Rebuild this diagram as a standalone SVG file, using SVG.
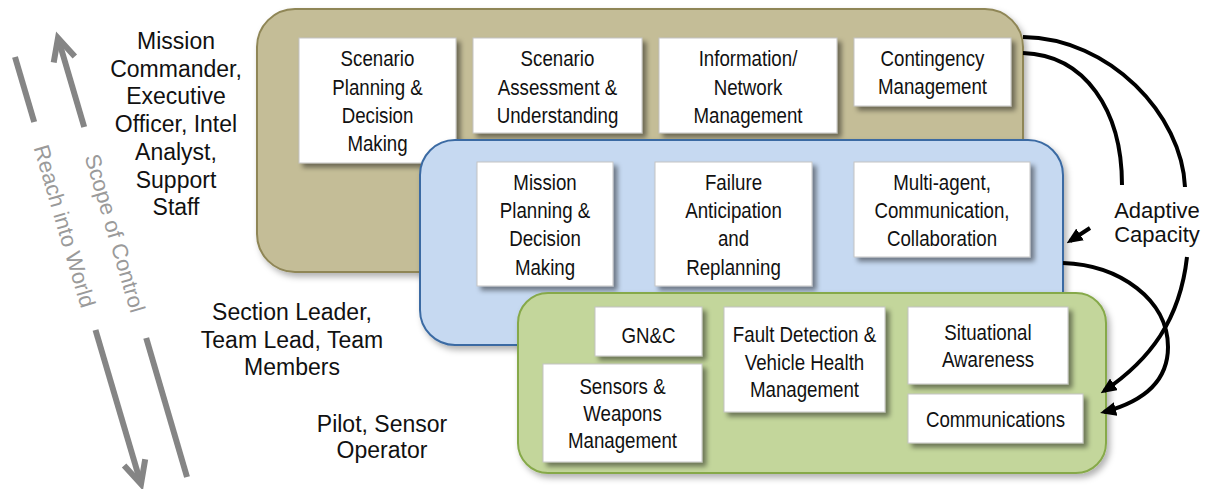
<svg xmlns="http://www.w3.org/2000/svg" width="1205" height="489" viewBox="0 0 1205 489">
<style>
.lbl{font-family:"Liberation Sans",Arial,sans-serif;font-size:23px;fill:#111;text-anchor:middle}
.adp{font-family:"Liberation Sans",Arial,sans-serif;font-size:22px;fill:#111;text-anchor:middle}
.bt{font-family:"Liberation Sans",Arial,sans-serif;font-size:22px;fill:#111;text-anchor:middle}
.gray{font-family:"Liberation Sans",Arial,sans-serif;font-size:22px;fill:#9a9a9a;text-anchor:middle}
.box{fill:#fff;stroke:#c4c4c4;stroke-width:1;filter:url(#bsh)}
.tan{fill:#c4bd97;stroke:#8f8656;stroke-width:2;filter:url(#csh)}
.blue{fill:#c6d9f1;stroke:#3b6ba3;stroke-width:2;filter:url(#csh)}
.green{fill:#c3d69b;stroke:#86a94a;stroke-width:2;filter:url(#csh)}
.conn{fill:none;stroke:#000;stroke-width:4}
.garr{fill:none;stroke:#858585;stroke-width:6;stroke-linecap:butt;stroke-linejoin:miter}
</style>
<defs>
<filter id="bsh" x="-10%" y="-10%" width="130%" height="135%">
<feDropShadow dx="4" dy="4" stdDeviation="2.5" flood-color="#000" flood-opacity="0.45"/>
</filter>
<filter id="csh" x="-5%" y="-5%" width="115%" height="120%">
<feDropShadow dx="3" dy="4" stdDeviation="3" flood-color="#000" flood-opacity="0.3"/>
</filter>
<marker id="ah" viewBox="0 0 16 14" refX="12" refY="7" markerWidth="16" markerHeight="14" markerUnits="userSpaceOnUse" orient="auto">
<path d="M0,0 L16,7 L0,14 z" fill="#000"/>
</marker>
</defs>
<rect width="1205" height="489" fill="#fff"/>

<g id="scope-arrow">
<line class="garr" x1="84.2" y1="127" x2="58" y2="38"/>
<polyline class="garr" points="53.7,62.6 58,38 74.8,56.6"/>
<line class="garr" x1="146.2" y1="338" x2="187" y2="477"/>
<text class="gray" transform="translate(115.3,233) rotate(73.6)" y="8">Scope of Control</text>
</g>
<g id="reach-arrow">
<line class="garr" x1="15" y1="57" x2="34.2" y2="122"/>
<line class="garr" x1="95.5" y1="330" x2="141" y2="484"/>
<polyline class="garr" points="124.1,465.5 141,484 145.2,459.3"/>
<text class="gray" transform="translate(65,226) rotate(73.6)" y="8">Reach into World</text>
</g>

<g id="label-mission">
<text class="lbl"><tspan x="176" y="49">Mission</tspan><tspan x="176" y="77">Commander,</tspan><tspan x="176" y="104">Executive</tspan><tspan x="176" y="132">Officer, Intel</tspan><tspan x="176" y="160">Analyst,</tspan><tspan x="176" y="188">Support</tspan><tspan x="176" y="215">Staff</tspan></text>
</g>
<g id="label-section">
<text class="lbl"><tspan x="292" y="320">Section Leader,</tspan><tspan x="292" y="348">Team Lead, Team</tspan><tspan x="292" y="375">Members</tspan></text>
</g>
<g id="label-pilot">
<text class="lbl"><tspan x="382" y="432">Pilot, Sensor</tspan><tspan x="382" y="458">Operator</tspan></text>
</g>

<g id="layer-top">
<rect class="tan" x="257" y="9" width="766" height="263" rx="38"/>
</g>
<g id="scenario-planning">
<rect class="box" x="299" y="38" width="157" height="125"/>
<g transform="translate(377.5,0) scale(0.85,1)"><text class="bt"><tspan x="0" y="66">Scenario</tspan><tspan x="0" y="95">Planning &amp;</tspan><tspan x="0" y="123">Decision</tspan><tspan x="0" y="151">Making</tspan></text></g>
</g>
<g id="scenario-assessment">
<rect class="box" x="473" y="38" width="169" height="95"/>
<g transform="translate(557.5,0) scale(0.85,1)"><text class="bt"><tspan x="0" y="66">Scenario</tspan><tspan x="0" y="95">Assessment &amp;</tspan><tspan x="0" y="123">Understanding</tspan></text></g>
</g>
<g id="information-network">
<rect class="box" x="659" y="38" width="178" height="95"/>
<g transform="translate(748,0) scale(0.85,1)"><text class="bt"><tspan x="0" y="66">Information/</tspan><tspan x="0" y="95">Network</tspan><tspan x="0" y="123">Management</tspan></text></g>
</g>
<g id="contingency">
<rect class="box" x="854" y="38" width="157" height="68"/>
<g transform="translate(932.5,0) scale(0.85,1)"><text class="bt"><tspan x="0" y="66">Contingency</tspan><tspan x="0" y="94">Management</tspan></text></g>
</g>

<g id="layer-middle">
<rect class="blue" x="420" y="140" width="643" height="205" rx="35"/>
</g>
<g id="mission-planning">
<rect class="box" x="477" y="162" width="136" height="124"/>
<g transform="translate(545,0) scale(0.85,1)"><text class="bt"><tspan x="0" y="190">Mission</tspan><tspan x="0" y="218">Planning &amp;</tspan><tspan x="0" y="246">Decision</tspan><tspan x="0" y="275">Making</tspan></text></g>
</g>
<g id="failure-anticipation">
<rect class="box" x="655" y="162" width="157" height="124"/>
<g transform="translate(733.5,0) scale(0.85,1)"><text class="bt"><tspan x="0" y="190">Failure</tspan><tspan x="0" y="218">Anticipation</tspan><tspan x="0" y="246">and</tspan><tspan x="0" y="275">Replanning</tspan></text></g>
</g>
<g id="multi-agent">
<rect class="box" x="854" y="162" width="176" height="95"/>
<g transform="translate(942,0) scale(0.85,1)"><text class="bt"><tspan x="0" y="190">Multi-agent,</tspan><tspan x="0" y="218">Communication,</tspan><tspan x="0" y="246">Collaboration</tspan></text></g>
</g>

<g id="layer-bottom">
<rect class="green" x="518" y="293" width="588" height="180" rx="30"/>
</g>
<g id="gnc">
<rect class="box" x="595" y="307" width="107" height="49"/>
<g transform="translate(648.5,0) scale(0.85,1)"><text class="bt" x="0" y="343">GN&amp;C</text></g>
</g>
<g id="sensors-weapons">
<rect class="box" x="543" y="364" width="159" height="98"/>
<g transform="translate(622.5,0) scale(0.85,1)"><text class="bt"><tspan x="0" y="394">Sensors &amp;</tspan><tspan x="0" y="421">Weapons</tspan><tspan x="0" y="448">Management</tspan></text></g>
</g>
<g id="fault-detection">
<rect class="box" x="724" y="307" width="161" height="105"/>
<g transform="translate(804.5,0) scale(0.85,1)"><text class="bt"><tspan x="0" y="342">Fault Detection &amp;</tspan><tspan x="0" y="370">Vehicle Health</tspan><tspan x="0" y="397">Management</tspan></text></g>
</g>
<g id="situational-awareness">
<rect class="box" x="908" y="307" width="160" height="77"/>
<g transform="translate(988,0) scale(0.85,1)"><text class="bt"><tspan x="0" y="340">Situational</tspan><tspan x="0" y="367">Awareness</tspan></text></g>
</g>
<g id="communications">
<rect class="box" x="908" y="394" width="175" height="49"/>
<g transform="translate(995.5,0) scale(0.85,1)"><text class="bt" x="0" y="427">Communications</text></g>
</g>

<g id="label-adaptive">
<text class="adp"><tspan x="1157" y="218">Adaptive</tspan><tspan x="1157" y="242">Capacity</tspan></text>
</g>

<g id="connectors">
<path class="conn" d="M1023,37 C1110,38 1182,115 1185,187"/>
<path class="conn" d="M1023,53 C1085,55 1122,110 1122,185"/>
<path class="conn" d="M1090,228 L1070,241" marker-end="url(#ah)"/>
<path class="conn" d="M1063,263 C1120,265 1168,300 1168,347 C1168,385 1138,403 1104,412" marker-end="url(#ah)"/>
<path class="conn" d="M1187,257 C1180,320 1150,360 1104,391" marker-end="url(#ah)"/>
</g>
</svg>
